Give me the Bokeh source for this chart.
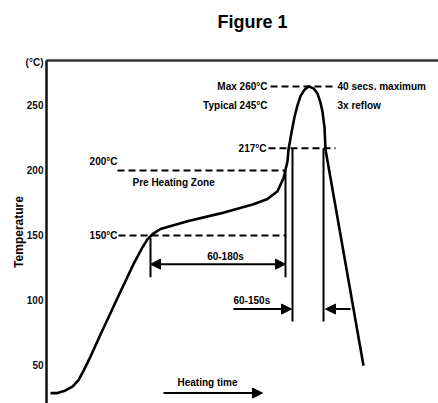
from bokeh.plotting import figure
from bokeh.models import Range1d, LinearAxis, Arrow, NormalHead, FixedTicker
from bokeh.core.properties import value
from bokeh.embed import file_html
from bokeh.resources import INLINE

# ---- data (time in s, arbitrary origin; temperature in degC) ----
time_s = [4, 11, 19, 26, 32, 37, 44, 54, 71, 87, 96, 101, 106, 114, 141, 174,
          207, 221, 231, 237, 241, 242, 245, 248, 251, 254, 258, 262, 267, 271,
          274, 276, 278, 279, 317]
temp_c = [29, 29, 31, 34, 39, 46, 57, 74, 102, 128, 141, 147, 151, 155, 161, 167,
          174, 178, 184, 194, 207, 216, 229, 241, 250, 257, 262, 264.5, 263, 259,
          252, 245, 233, 216, 50]

y_ticks = [50, 100, 150, 200, 250, 283]
y_tick_labels = ["50", "100", "150", "200", "250", "(°C)"]

# dashed reference levels: (temperature, time start, time end)
level_temp = [150, 200, 217, 264.5]
level_t0 = [72, 71, 222, 224]
level_t1 = [240, 239, 289, 287]

# vertical markers: time, temp top, temp bottom
mark_t = [104, 239, 246, 277]
mark_top = [148, 200, 217, 217]
mark_bot = [118, 118, 84, 84]

# arrows: t start, t end, temp, double-headed?
arrow_t0 = [104, 187, 304, 117]
arrow_t1 = [239, 245, 279, 216]
arrow_temp = [128, 93.5, 93.5, 29]
arrow_double = [True, False, False, False]

# text annotations
ann_text = ["150°C", "200°C", "Pre Heating Zone", "217°C", "Max 260°C",
            "Typical 245°C", "40 secs. maximum", "3x reflow", "60-180s",
            "60-150s", "Heating time"]
ann_t = [71, 71, 86, 220, 221, 221, 291, 291, 179, 187, 161]
ann_temp = [150, 207, 191, 217, 264.5, 250, 264.5, 250, 134, 100, 37]
ann_align = ["right", "right", "left", "right", "right", "right", "left",
             "left", "center", "left", "center"]

FONT = "Liberation Sans"

p = figure(width=438, height=403, output_backend="svg", toolbar_location=None,
           x_axis_location=None, x_range=Range1d(0, 392),
           y_range=Range1d(21.0, 284.4),
           min_border_left=46, min_border_top=0, min_border_right=0,
           min_border_bottom=0)
p.outline_line_color = None
p.grid.visible = False
p.background_fill_color = "white"

p.title.text = "Figure 1"
p.title.text_font = FONT
p.title.text_font_size = "18px"
p.title.text_font_style = "bold"
p.title.text_color = "black"
p.title.align = "left"
p.title.offset = 171
p.title.standoff = 18

yax = p.yaxis[0]
yax.ticker = FixedTicker(ticks=y_ticks)
yax.major_label_overrides = {t: l for t, l in zip(y_ticks, y_tick_labels)}
yax.axis_label = "Temperature"
yax.axis_label_text_font = FONT
yax.axis_label_text_font_size = "12px"
yax.axis_label_text_font_style = "bold"
yax.axis_label_text_color = "black"
yax.axis_label_standoff = -3
yax.major_label_text_font = FONT
yax.major_label_text_font_size = "10px"
yax.major_label_text_font_style = "bold"
yax.major_label_text_color = "#111111"
yax.major_label_standoff = 3
yax.major_tick_out = 0
yax.major_tick_in = 0
yax.minor_tick_out = 0
yax.minor_tick_in = 0
yax.axis_line_width = 2.5
yax.axis_line_color = "#111111"

# top border line; its (blank) label only reserves space under the title
top = LinearAxis(ticker=FixedTicker(ticks=[]), major_tick_out=0, major_tick_in=0,
                 minor_tick_out=0, minor_tick_in=0, major_label_standoff=0,
                 major_label_text_font_size="0px", axis_line_width=2.5,
                 axis_line_color="#333333", axis_label=" ",
                 axis_label_text_font_size="10px", axis_label_standoff=6)
p.add_layout(top, "above")

# profile curve
p.line(time_s, temp_c, line_width=2.6, line_color="black", line_join="round")

# dashed levels
p.segment(x0=level_t0, y0=level_temp, x1=level_t1, y1=level_temp,
          line_width=2, line_color="black", line_dash="7 4")

# vertical markers
p.segment(x0=mark_t, y0=mark_top, x1=mark_t, y1=mark_bot,
          line_width=2, line_color="black")

# arrows
for t0, t1, tc, dbl in zip(arrow_t0, arrow_t1, arrow_temp, arrow_double):
    end = NormalHead(size=10, fill_color="black", line_color="black")
    start = NormalHead(size=10, fill_color="black", line_color="black") if dbl else None
    p.add_layout(Arrow(x_start=t0, y_start=tc, x_end=t1, y_end=tc, end=end,
                       start=start, line_width=2, line_color="black"))

# annotations
for txt, t, tc, al in zip(ann_text, ann_t, ann_temp, ann_align):
    p.text(x=[t], y=[tc], text=[txt], text_align=al, text_baseline="middle",
           text_font=value(FONT), text_font_size="10px", text_font_style="bold",
           text_color="black")

open("out.html", "w").write(file_html(p, INLINE))
